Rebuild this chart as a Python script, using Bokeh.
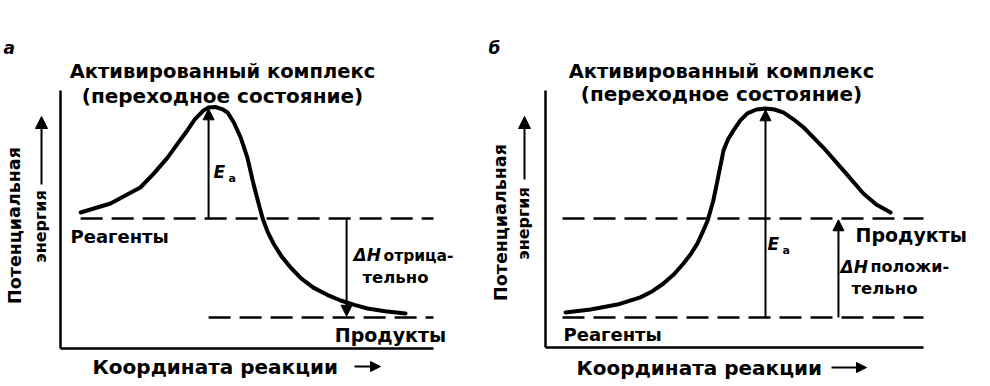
from bokeh.plotting import figure
from bokeh.layouts import row
from bokeh.models import Range1d, Label, Arrow, NormalHead
from bokeh.embed import file_html
from bokeh.resources import INLINE

# ---------------- data (energy 0..100, reaction coordinate 0..100) ----------------
# Panel a: exothermic reaction
coord_a = [5.4, 13.4, 21.4, 25.0, 28.7, 31.5, 34.0, 36.0, 38.3, 39.7, 41.5, 43.3, 44.8,
           46.5, 48.3, 50.1, 51.7, 53.0, 54.2, 55.5, 57.1, 59.2, 61.7, 64.5, 67.8,
           71.5, 75.1, 78.8, 82.3, 87.0, 92.5]
energy_a = [52.7, 56.2, 62.4, 67.8, 74.0, 79.6, 84.5, 88.8, 92.2, 93.4, 93.6, 92.8, 91.5,
            87.5, 81.8, 74.0, 64.0, 56.8, 50.4, 45.3, 40.7, 35.8, 31.4, 27.2, 23.6,
            20.8, 18.6, 16.9, 15.5, 14.4, 13.6]
reagents_a = 50.4
products_a = 12.0
peak_a = (39.7, 93.4)
dh_x_a = 76.7

# Panel b: endothermic reaction
coord_b = [5.3, 11.9, 19.0, 25.1, 28.3, 31.2, 34.0, 36.5, 38.5, 40.2, 41.6, 42.9, 44.4,
           45.5, 47.1, 48.3, 49.7, 51.5, 53.4, 55.8, 58.2, 60.6, 63.0, 65.6, 68.3,
           73.5, 78.8, 84.1, 87.5, 91.3]
energy_b = [13.6, 14.8, 16.7, 19.5, 21.9, 24.9, 28.5, 32.7, 36.5, 40.5, 45.0, 49.4, 57.2,
            65.0, 76.7, 81.0, 84.4, 88.3, 91.1, 92.6, 93.0, 92.6, 91.4, 88.8, 85.6,
            77.8, 68.9, 59.9, 55.6, 52.5]
reagents_b = 11.7
products_b = 50.2
peak_b = (58.2, 93.0)
dh_x_b = 77.5

TITLE1 = "Активированный комплекс"
TITLE2 = "(переходное состояние)"
YLAB1 = "Потенциальная"
YLAB2 = "энергия"
XLAB = "Координата реакции"

FONT = "DejaVu Sans"
H = 380


def make_panel(width, fig_left, ax_l, ax_r, ax_t, ax_b):
    sx = (ax_r - ax_l) / 100.0
    sy = (ax_b - ax_t) / 100.0
    X = lambda px: (px - ax_l) / sx
    Y = lambda py: (ax_b - py) / sy
    p = figure(width=width, height=H, output_backend="svg", toolbar_location=None,
               x_range=Range1d(X(fig_left), X(fig_left + width)),
               y_range=Range1d(Y(H), Y(0)),
               x_axis_type=None, y_axis_type=None, min_border=0)
    p.grid.visible = False
    p.outline_line_color = None
    p.background_fill_color = "white"
    # axes lines
    p.segment(x0=[0, 0], y0=[0, 0], x1=[0, 100], y1=[100, 0], line_color="black", line_width=2.5)
    return p, X, Y


def txt(p, x, y, text, size=16, align="left", style="bold", angle=0.0):
    p.add_layout(Label(x=x, y=y, text=text, text_align=align, text_baseline="middle",
                       text_font=FONT, text_font_size=f"{size}px", text_font_style=style,
                       text_color="black", angle=angle))


def arrow(p, x0, y0, x1, y1, size=11, lw=2):
    p.add_layout(Arrow(end=NormalHead(size=size, fill_color="black", line_color="black"),
                       x_start=x0, y_start=y0, x_end=x1, y_end=y1,
                       line_color="black", line_width=lw))


def common_labels(p, X, Y, tcx, t1y, t2y, ylx1, ylx2, yl_cy, yl2_cy, yarr, xl_left, xl_y, xarr):
    txt(p, X(tcx), Y(t1y), TITLE1, size=19.5, align="center")
    txt(p, X(tcx), Y(t2y), TITLE2, size=20, align="center")
    txt(p, X(ylx1), Y(yl_cy), YLAB1, size=17.5, align="center", angle=1.5708)
    txt(p, X(ylx2), Y(yl2_cy), YLAB2, size=16, align="center", angle=1.5708)
    arrow(p, X(ylx2 + 1), Y(yarr[0]), X(ylx2 + 1), Y(yarr[1]), size=12, lw=2)
    txt(p, X(xl_left), Y(xl_y), XLAB, size=20, align="left")
    arrow(p, X(xarr[0]), Y(xl_y), X(xarr[1]), Y(xl_y), size=10, lw=2)


# ---------------- panel a ----------------
pa, Xa, Ya = make_panel(488, 0, 60, 433, 90, 348)
pa.line(coord_a, energy_a, line_color="black", line_width=4, line_join="round", line_cap="round")
pa.line([coord_a[0], 100], [reagents_a, reagents_a], line_color="black", line_width=2.5, line_dash="22 9")
pa.line([peak_a[0], 100], [products_a, products_a], line_color="black", line_width=2.5, line_dash="22 9")
arrow(pa, peak_a[0], reagents_a, peak_a[0], peak_a[1] - 0.5)
arrow(pa, dh_x_a, reagents_a, dh_x_a, products_a + 0.5)
txt(pa, Xa(3), Ya(47), "а", size=17, style="bold italic")
txt(pa, Xa(213), Ya(171), "E", size=17, style="bold italic")
txt(pa, Xa(228), Ya(178), "а", size=11)
txt(pa, Xa(70), Ya(236), "Реагенты", size=18)
txt(pa, Xa(353), Ya(254), "ΔH", size=17, style="bold italic")
txt(pa, Xa(383), Ya(255), "отрица-", size=15.5)
txt(pa, Xa(395), Ya(277), "тельно", size=16.5, align="center")
txt(pa, Xa(390), Ya(334), "Продукты", size=19, align="center")
common_labels(pa, Xa, Ya, 222, 71, 95, 14, 40, 225, 226, (184, 116), 92, 366, (354, 380))

# ---------------- panel b ----------------
pb, Xb, Yb = make_panel(494, 488, 545, 923, 90, 347)
pb.line(coord_b, energy_b, line_color="black", line_width=4, line_join="round", line_cap="round")
pb.line([4.5, 100], [products_b, products_b], line_color="black", line_width=2.5, line_dash="22 9")
pb.line([4.5, 100], [reagents_b, reagents_b], line_color="black", line_width=2.5, line_dash="22 9")
arrow(pb, peak_b[0], reagents_b, peak_b[0], peak_b[1] - 0.5)
arrow(pb, dh_x_b, reagents_b, dh_x_b, products_b - 0.5)
txt(pb, Xb(488), Yb(47), "б", size=17, style="bold italic")
txt(pb, Xb(767), Yb(243), "E", size=17, style="bold italic")
txt(pb, Xb(782), Yb(250), "а", size=11)
txt(pb, Xb(855), Yb(234), "Продукты", size=19)
txt(pb, Xb(840), Yb(266), "ΔH", size=17, style="bold italic")
txt(pb, Xb(870), Yb(266), "положи-", size=16)
txt(pb, Xb(884), Yb(288), "тельно", size=16.5, align="center")
txt(pb, Xb(563), Yb(334), "Реагенты", size=18)
common_labels(pb, Xb, Yb, 721, 71, 93, 500, 523, 222, 223, (179, 116), 576, 367, (831, 866))

layout = row(pa, pb)
open("out.html", "w").write(file_html(layout, INLINE))
